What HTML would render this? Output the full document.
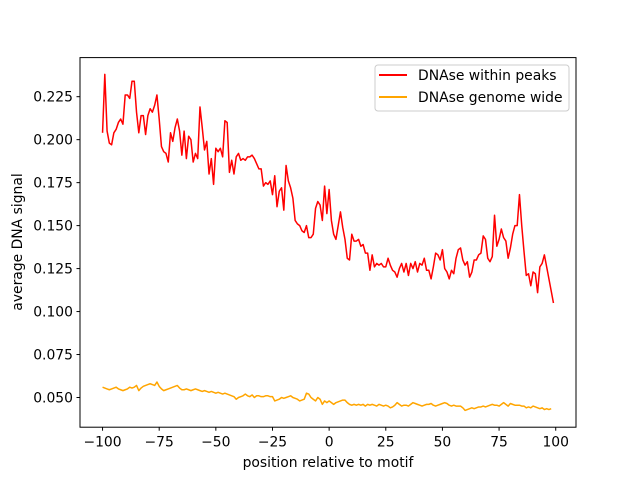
<!DOCTYPE html>
<html><head><meta charset="utf-8"><style>
body{margin:0;background:#fff;}
svg{display:block;font-family:"DejaVu Sans","Liberation Sans",sans-serif;}
</style></head><body>
<svg id="chart" width="640" height="480" viewBox="0 0 640 480">
<rect x="0" y="0" width="640" height="480" fill="#fff"/>
<g id="plot"></g>
<rect x="80" y="57.6" width="496" height="369.6" fill="none" stroke="#000" stroke-width="1"/>
<g id="xticks"></g>
<g id="yticks"></g>
<text x="328" y="467" text-anchor="middle" font-size="13.9">position relative to motif</text>
<text transform="translate(22,242) rotate(-90)" text-anchor="middle" font-size="13.9">average DNA signal</text>
<g>
<rect x="375" y="65" width="194" height="46" rx="3" fill="#fff" fill-opacity="0.8" stroke="#ccc"/>
<g>
<line x1="379" y1="75" x2="407" y2="75" stroke="red" stroke-width="2"/>
<text x="418" y="80" font-size="13.9">DNAse within peaks</text></g>
<g>
<line x1="379" y1="97" x2="407" y2="97" stroke="orange" stroke-width="2"/>
<text x="418" y="102" font-size="13.9">DNAse genome wide</text></g>
</g>
</svg>
<script>
const xStart = -100;
const peaks = [0.204,0.238,0.205,0.198,0.197,0.204,0.206,0.210,0.212,0.209,0.226,0.226,0.224,0.234,0.234,0.216,0.204,0.214,0.214,0.203,0.214,0.218,0.216,0.220,0.226,0.212,0.196,0.193,0.192,0.187,0.204,0.199,0.207,0.212,0.205,0.191,0.205,0.189,0.202,0.200,0.187,0.192,0.189,0.219,0.207,0.194,0.199,0.180,0.189,0.174,0.195,0.193,0.195,0.190,0.211,0.210,0.181,0.188,0.180,0.190,0.192,0.188,0.189,0.188,0.190,0.190,0.191,0.189,0.186,0.183,0.183,0.173,0.175,0.174,0.176,0.168,0.179,0.161,0.170,0.172,0.159,0.185,0.176,0.172,0.166,0.153,0.151,0.150,0.147,0.146,0.150,0.143,0.143,0.145,0.160,0.164,0.162,0.153,0.173,0.157,0.171,0.153,0.145,0.142,0.150,0.158,0.149,0.142,0.131,0.130,0.145,0.141,0.141,0.142,0.138,0.139,0.134,0.134,0.124,0.133,0.126,0.128,0.127,0.128,0.126,0.126,0.131,0.127,0.124,0.123,0.120,0.125,0.128,0.123,0.128,0.121,0.128,0.125,0.129,0.123,0.128,0.127,0.131,0.124,0.124,0.119,0.126,0.134,0.133,0.130,0.136,0.125,0.123,0.119,0.124,0.122,0.131,0.136,0.137,0.130,0.127,0.129,0.120,0.123,0.130,0.130,0.133,0.134,0.144,0.142,0.131,0.129,0.132,0.156,0.138,0.142,0.148,0.143,0.141,0.131,0.137,0.145,0.150,0.150,0.168,0.150,0.135,0.121,0.122,0.115,0.123,0.122,0.111,0.126,0.128,0.133,0.126,0.119,0.112,0.105];
const genome = [0.056,0.0555,0.055,0.0545,0.055,0.0555,0.056,0.055,0.0545,0.054,0.0545,0.055,0.056,0.0555,0.056,0.057,0.054,0.0555,0.0565,0.057,0.0575,0.058,0.0575,0.057,0.059,0.0565,0.055,0.054,0.0545,0.055,0.0555,0.056,0.0565,0.057,0.0555,0.0545,0.0545,0.055,0.0545,0.054,0.0545,0.055,0.0545,0.054,0.0535,0.054,0.0535,0.053,0.0535,0.053,0.0525,0.053,0.0525,0.052,0.0525,0.052,0.0515,0.051,0.0505,0.049,0.050,0.0505,0.051,0.052,0.051,0.0505,0.0515,0.050,0.051,0.051,0.0505,0.0505,0.051,0.051,0.0505,0.0505,0.048,0.0485,0.049,0.050,0.0495,0.050,0.0505,0.051,0.050,0.0495,0.049,0.048,0.0485,0.049,0.0525,0.052,0.050,0.049,0.048,0.050,0.049,0.046,0.048,0.047,0.048,0.047,0.046,0.047,0.0475,0.048,0.0485,0.0485,0.047,0.046,0.0455,0.046,0.0455,0.046,0.0455,0.046,0.045,0.046,0.0455,0.046,0.0455,0.045,0.046,0.0455,0.045,0.0455,0.045,0.044,0.0445,0.0455,0.047,0.046,0.045,0.0455,0.0455,0.045,0.046,0.047,0.0465,0.046,0.0455,0.045,0.0455,0.046,0.046,0.0465,0.0455,0.045,0.0455,0.046,0.0465,0.047,0.0465,0.0455,0.045,0.0455,0.045,0.045,0.045,0.044,0.0425,0.043,0.0435,0.044,0.0435,0.044,0.0445,0.0445,0.045,0.0445,0.045,0.0455,0.046,0.0455,0.0455,0.045,0.046,0.047,0.046,0.045,0.0465,0.046,0.0455,0.0455,0.0455,0.045,0.045,0.044,0.0445,0.044,0.045,0.0445,0.044,0.0435,0.044,0.043,0.0435,0.043,0.0435];
const xTicks = [-100,-75,-50,-25,0,25,50,75,100];
const yTicks = [0.050,0.075,0.100,0.125,0.150,0.175,0.200,0.225];
const yLabels = ["0.050","0.075","0.100","0.125","0.150","0.175","0.200","0.225"];

const L=80,R=576,T=57.6,B=427.2;
const xmin=-109.95,xmax=108.95,ymin=0.03272,ymax=0.24774;
const sx=v=>L+(v-xmin)/(xmax-xmin)*(R-L);
const sy=v=>B-(v-ymin)/(ymax-ymin)*(B-T);
const NS="http://www.w3.org/2000/svg";
function mk(tag,attrs,parent){const e=document.createElementNS(NS,tag);for(const k in attrs)e.setAttribute(k,attrs[k]);parent.appendChild(e);return e;}
const plot=document.getElementById('plot'),xg=document.getElementById('xticks'),yg=document.getElementById('yticks');
function series(arr,color,name){
  const d=arr.map((v,i)=>(i?'L':'M')+sx(xStart+i).toFixed(2)+','+sy(v).toFixed(2)).join('');
  const p=mk('path',{d:d,fill:'none',stroke:color,'stroke-width':1.5,'stroke-linejoin':'round'},plot);
  
  
}
series(peaks,'red','peaks-line');
series(genome,'orange','genome-line');
xTicks.forEach(t=>{
  const x=sx(t);
  const l=mk('line',{x1:x,x2:x,y1:B,y2:B+3.5,stroke:'#000'},xg);
  
  
  const s=mk('text',{x:x,y:B+19.5,'text-anchor':'middle','font-size':13.9},xg);
  s.textContent=(t<0?'\u2212'+(-t):String(t));
  
  
});
yTicks.forEach((t,i)=>{
  const y=sy(t);
  const l=mk('line',{x1:L-3.5,x2:L,y1:y,y2:y,stroke:'#000'},yg);
  
  
  const s=mk('text',{x:L-7,y:y+5,'text-anchor':'end','font-size':13.9},yg);
  s.textContent=yLabels[i];
  
  
});
</script>
</body></html>
